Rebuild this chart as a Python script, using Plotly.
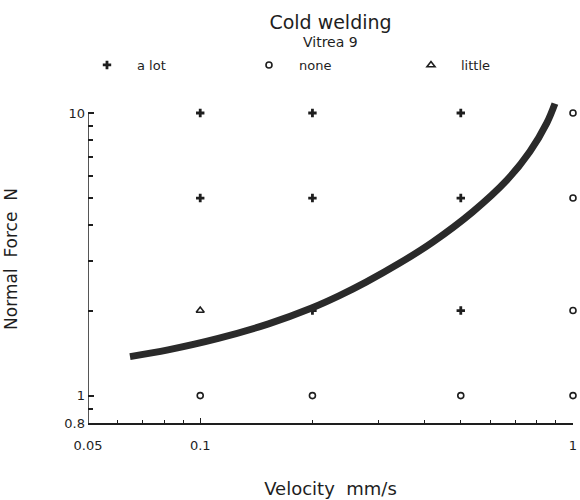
import numpy as np
import plotly.graph_objects as go

# Observed cold-welding grid points (velocity mm/s, normal force N)
alot_v = [0.1, 0.1, 0.2, 0.2, 0.2, 0.5, 0.5, 0.5]
alot_f = [10, 5, 10, 5, 2, 10, 5, 2]
none_v = [0.1, 0.2, 0.5, 1.0, 1.0, 1.0, 1.0]
none_f = [1, 1, 1, 10, 5, 2, 1]
little_v = [0.1]
little_f = [2]

# Boundary curve
curve_v = [0.0648, 0.082, 0.1118, 0.1525, 0.1991, 0.2355, 0.2785, 0.342, 0.4195,
           0.5377, 0.6638, 0.7657, 0.851, 0.8944]
curve_f = [1.374, 1.452, 1.594, 1.794, 2.041, 2.253, 2.52, 2.937, 3.486,
           4.465, 5.773, 7.294, 9.226, 10.79]

x_ticks = [0.05, 0.1, 1]
x_ticktext = ["0.05", "0.1", "1"]
y_ticks = [0.8, 1, 10]
y_ticktext = ["0.8", "1", "10"]
x_minor = [0.06, 0.07, 0.08, 0.09, 0.2, 0.3, 0.4, 0.5, 0.6, 0.7, 0.8, 0.9]
y_minor = [0.9, 2, 3, 4, 5, 6, 7, 8, 9]

INK = "#1e1e1e"
FONT = "DejaVu Sans"

fig = go.Figure()
fig.add_trace(go.Scatter(x=alot_v, y=alot_f, mode="markers", name="a lot",
                         cliponaxis=False,
                         marker=dict(symbol="cross", size=7, color=INK,
                                     line=dict(width=0))))
fig.add_trace(go.Scatter(x=none_v, y=none_f, mode="markers", name="none",
                         cliponaxis=False,
                         marker=dict(symbol="circle-open", size=6, color=INK,
                                     line=dict(width=1.6, color=INK))))
fig.add_trace(go.Scatter(x=little_v, y=little_f, mode="markers", name="little",
                         cliponaxis=False,
                         marker=dict(symbol="triangle-up-open", size=7, color=INK,
                                     line=dict(width=1.6, color=INK))))
fig.add_trace(go.Scatter(x=curve_v, y=curve_f, mode="lines", showlegend=False,
                         line=dict(color="#2a2a2a", width=7, shape="spline",
                                   smoothing=1.0)))

# y axis line only from 0.8 to 10
fig.add_shape(type="line", xref="x", yref="y", x0=0.05, x1=0.05, y0=0.8, y1=10,
              line=dict(color=INK, width=1.5))

# subtitle
fig.add_annotation(text="Vitrea 9", xref="paper", yref="paper", x=0.5,
                   y=1 + (95 - 42) / 328, xanchor="center", yanchor="middle",
                   showarrow=False, font=dict(size=14, family=FONT, color=INK))

ymin, ymax = np.log10(0.8), 1.0636
fig.update_layout(
    width=580, height=500,
    margin=dict(l=88, r=7, t=95, b=77, autoexpand=False),
    paper_bgcolor="white", plot_bgcolor="white",
    font=dict(family=FONT, color=INK, size=13),
    title=dict(text="Cold welding", x=0.5, xref="paper", xanchor="center",
               y=1 - 22 / 500, yref="container", yanchor="middle",
               font=dict(size=19, family=FONT, color=INK)),
    legend=dict(orientation="h", x=-0.0227, xanchor="left", y=1 + (95 - 65) / 328,
                yanchor="middle",
                entrywidth=97, entrywidthmode="pixels", itemwidth=50,
                font=dict(size=13, family=FONT, color=INK),
                bgcolor="rgba(0,0,0,0)", traceorder="normal"),
    showlegend=True,
)
fig.update_xaxes(type="log", range=[np.log10(0.05), 0], showgrid=False, zeroline=False,
                 showline=True, linecolor=INK, linewidth=1.5,
                 tickmode="array", tickvals=x_ticks, ticktext=x_ticktext,
                 ticks="inside", ticklen=5, tickcolor=INK, tickwidth=1,
                 ticklabelstandoff=10,
                 tickfont=dict(size=13, family=FONT, color=INK),
                 minor=dict(tickmode="array", tickvals=x_minor, ticks="inside",
                            ticklen=3, tickcolor=INK, tickwidth=1, showgrid=False),
                 title=dict(text="Velocity  mm/s", standoff=30,
                            font=dict(size=18, family=FONT, color=INK)))
fig.update_yaxes(type="log", range=[ymin, ymax], showgrid=False, zeroline=False,
                 showline=False,
                 tickmode="array", tickvals=y_ticks, ticktext=y_ticktext,
                 ticks="inside", ticklen=6, tickcolor=INK, tickwidth=1.5,
                 ticklabelstandoff=2,
                 tickfont=dict(size=13, family=FONT, color=INK),
                 minor=dict(tickmode="array", tickvals=y_minor, ticks="inside",
                            ticklen=5, tickcolor=INK, tickwidth=1.5, showgrid=False),
                 title=dict(text="Normal  Force  N", standoff=42,
                            font=dict(size=17, family=FONT, color=INK)))

fig.write_html("out.html")
